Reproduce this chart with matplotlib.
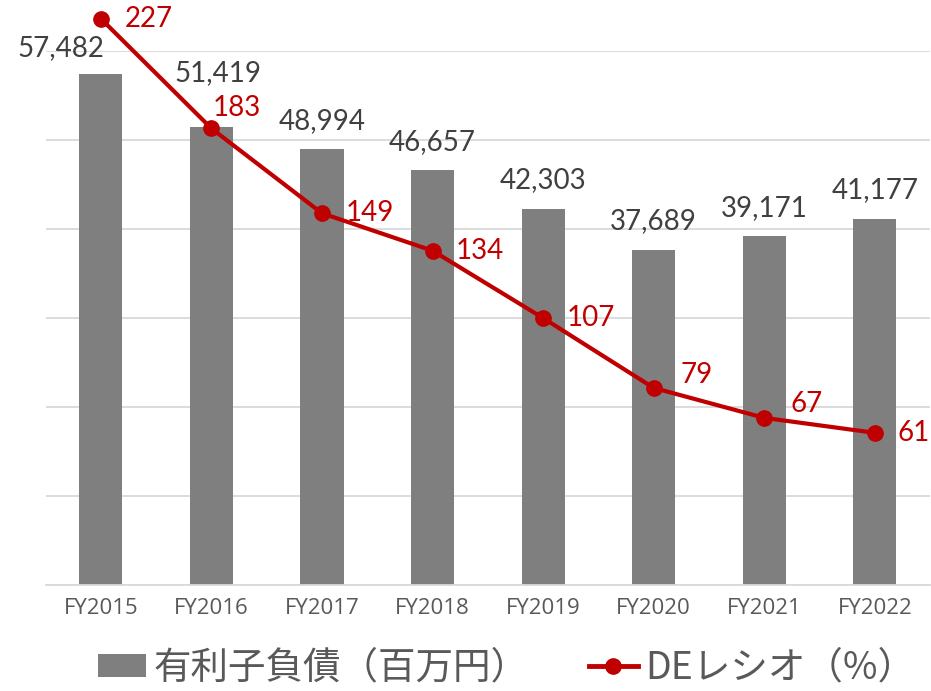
import matplotlib
matplotlib.use("Agg")
import matplotlib.pyplot as plt
from matplotlib.lines import Line2D
from matplotlib.patches import Patch

years = ["FY2015", "FY2016", "FY2017", "FY2018", "FY2019", "FY2020", "FY2021", "FY2022"]
debt = [57482, 51419, 48994, 46657, 42303, 37689, 39171, 41177]  # 百万円
de_ratio = [227, 183, 149, 134, 107, 79, 67, 61]  # %

BAR_COLOR = "#7f7f7f"
LINE_COLOR = "#c00000"
NUM_FONT = ["Lato", "DejaVu Sans"]
TICK_FONT = ["Open Sans", "DejaVu Sans"]
JP_FONT = ["Noto Sans CJK JP", "DejaVu Sans"]

fig = plt.figure(figsize=(9.31, 6.91), dpi=100)
ax = fig.add_axes([0.049, 0.1534, 0.950, 0.7726])
x = list(range(len(years)))

ax.bar(x, debt, width=0.39, color=BAR_COLOR, zorder=2)
ax.set_ylim(0, 60000)
ax.set_xlim(-0.5, len(years) - 0.5)
ax.set_yticks(range(0, 60001, 10000))
ax.yaxis.grid(True, color="#d9d9d9", linewidth=1.3, zorder=0)
ax.set_xticks(x)
ax.set_xticklabels(years, fontsize=16, color="#595959", family=TICK_FONT)
for s in ["top", "right", "left"]:
    ax.spines[s].set_visible(False)
ax.spines["bottom"].set_color("#d9d9d9")
ax.spines["bottom"].set_linewidth(1.3)

# bar value labels; the first two are nudged to clear the line
bar_off = [(-29, 9), (5, 30), (0, 11), (0, 11), (0, 11), (0, 11), (0, 11), (0, 11)]
for xi, v, (dx, dy) in zip(x, debt, bar_off):
    ax.annotate(f"{v:,}", (xi, v), xytext=(dx, dy), textcoords="offset points",
                ha="center", va="bottom", fontsize=20, color="#404040", family=NUM_FONT)

ax2 = ax.twinx()
ax2.set_ylim(0, 214)
ax2.axis("off")
ax2.plot(x, de_ratio, color=LINE_COLOR, linewidth=3, marker="o", markersize=11,
         clip_on=False, zorder=3)
ax.tick_params(axis="y", left=False, right=False, labelleft=False)
ax.tick_params(axis="x", bottom=False, pad=6)

# label offsets in points (dx, dy), as placed in the original
offsets = [(17, 0), (1, 15), (17, 0), (17, 0), (17, 0), (19, 9), (19, 10), (16, 0)]
for xi, v, (dx, dy) in zip(x, de_ratio, offsets):
    ax2.annotate(str(v), (xi, v), xytext=(dx, dy), textcoords="offset points",
                 ha="left", va="center", fontsize=20, color=LINE_COLOR, family=NUM_FONT,
                 annotation_clip=False)

handles = [
    Patch(facecolor=BAR_COLOR, label="有利子負債（百万円）"),
    Line2D([0], [0], color=LINE_COLOR, linewidth=3.5, marker="o", markersize=11,
           label="DEレシオ（%）"),
]
fig.legend(handles=handles, loc="center", bbox_to_anchor=(0.544, 0.033), ncol=2,
           frameon=False, prop={"family": JP_FONT, "size": 27}, labelcolor="#595959",
           handlelength=1.3, handleheight=0.55, handletextpad=0.2, columnspacing=1.6)

fig.savefig("out.png", dpi=100)
